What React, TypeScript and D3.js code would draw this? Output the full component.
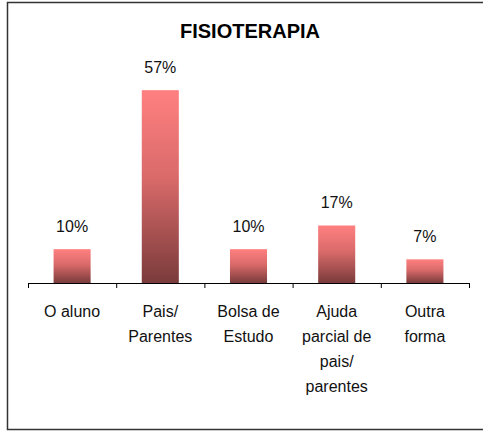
import React from 'react';
import * as d3 from 'd3';

const categories = [
  ['O aluno'],
  ['Pais/', 'Parentes'],
  ['Bolsa de', 'Estudo'],
  ['Ajuda', 'parcial de', 'pais/', 'parentes'],
  ['Outra', 'forma'],
];
const values = [10, 57, 10, 17, 7];
const valueLabels = ['10%', '57%', '10%', '17%', '7%'];
const title = 'FISIOTERAPIA';

const W = 483;
const H = 431;
const font = '"Liberation Sans", Arial, sans-serif';

export default function App() {
  const x = d3
    .scaleBand<number>()
    .domain(d3.range(values.length))
    .range([28, 469])
    .paddingInner(0)
    .paddingOuter(0);
  const y = d3.scaleLinear().domain([0, 60]).range([283, 80]);
  const barW = x.bandwidth() * 0.42;
  const ticks = d3.range(values.length + 1).map(i => 28 + i * x.step());

  return (
    <svg
      width={W}
      height={H}
      style={{ position: 'absolute', left: 0, top: 0, background: '#fff' }}
    >
      <defs>
        <linearGradient id="barGrad" x1="0" y1="0" x2="0" y2="1">
          <stop offset="0" stopColor="#FF8080" />
          <stop offset="0.45" stopColor="#DA6A6A" />
          <stop offset="1" stopColor="#7A3B3B" />
        </linearGradient>
      </defs>
      {/* chart frame */}
      <rect x={7.5} y={2.5} width={500} height={427} fill="#fff" stroke="#333" strokeWidth={1.5} />

      <text
        x={250}
        y={38}
        textAnchor="middle"
        fontFamily={font}
        fontWeight="bold"
        fontSize={20}
        fill="#000"
      >
        {title}
      </text>

      {values.map((v, i) => {
        const cx = (x(i) as number) + x.bandwidth() / 2;
        return (
          <g key={i}>
            <rect
              x={cx - barW / 2}
              y={y(v)}
              width={barW}
              height={y(0) - y(v)}
              fill="url(#barGrad)"
            />
            <text
              x={cx}
              y={y(v) - 17}
              textAnchor="middle"
              fontFamily={font}
              fontSize={16}
              fill="#111"
            >
              {valueLabels[i]}
            </text>
            {categories[i].map((line, j) => (
              <text
                key={j}
                x={cx}
                y={317 + j * 25}
                textAnchor="middle"
                fontFamily={font}
                fontSize={16}
                fill="#111"
              >
                {line}
              </text>
            ))}
          </g>
        );
      })}

      <line x1={28} x2={469} y1={y(0) + 0.5} y2={y(0) + 0.5} stroke="#000" strokeWidth={1} />
      {ticks.map((t, i) => (
        <line
          key={i}
          x1={t + 0.5}
          x2={t + 0.5}
          y1={y(0)}
          y2={y(0) + 5}
          stroke="#000"
          strokeWidth={1}
        />
      ))}
    </svg>
  );
}
